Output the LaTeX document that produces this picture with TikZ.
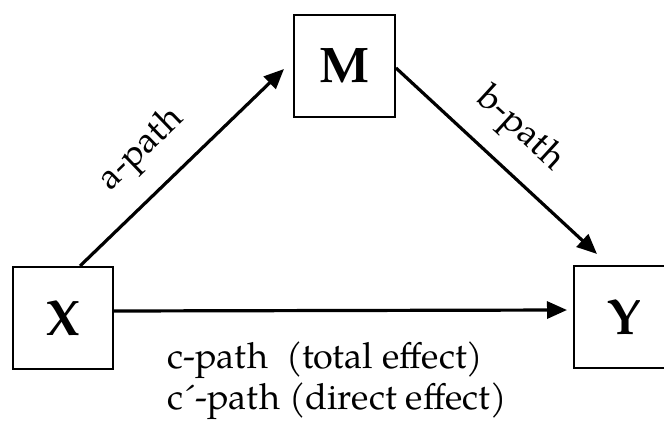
\documentclass[tikz,border=0pt]{standalone}
\usepackage{fontspec}
\setmainfont{TeX Gyre Pagella}
\usetikzlibrary{arrows.meta}
\begin{document}
\begin{tikzpicture}[x=1pt,y=-1pt,
  varbox/.style={draw,line width=2pt,minimum width=100pt,minimum height=102pt,inner sep=0pt,font=\fontsize{50}{50}\selectfont\bfseries},
  patharrow/.style={line width=3.2pt,-{Triangle[length=20pt,width=17pt]}},
  lbl/.style={inner sep=0pt,font=\fontsize{36}{36}\selectfont}]
\clip (0,0) rectangle (664,423);
\useasboundingbox (0,0) rectangle (664,423);
\node[varbox] (X) at (63,318) {X};
\node[varbox,minimum width=101pt] (M) at (344.5,66) {M};
\node[varbox] (Y) at (624,317) {Y};
\draw[patharrow] ([xshift=17pt]X.north) -- ([xshift=-9pt,yshift=-3pt]M.west);
\draw[patharrow] ([yshift=-2pt]M.east) -- ([xshift=-27pt,yshift=11pt]Y.north);
\draw[patharrow] ([yshift=7pt]X.east) -- ([xshift=-6pt,yshift=7pt]Y.west);
\node[lbl,rotate=44] (la) at (142,150) {a-path};
\node[lbl,rotate=-42.5] (lb) at (520,130) {b-path};
\node[lbl,anchor=base west] (lc) at (167,368) {c-path\ \ (total effect)};
\node[lbl,anchor=base west] (ld) at (167,409) {c´-path (direct effect)};
\end{tikzpicture}
\end{document}
